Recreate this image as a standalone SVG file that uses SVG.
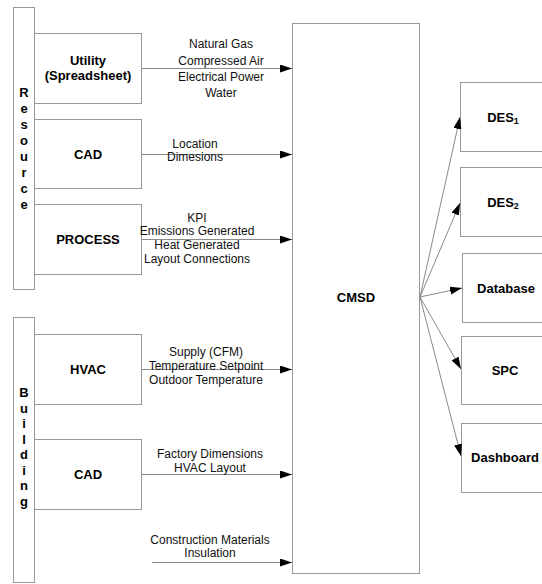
<svg xmlns="http://www.w3.org/2000/svg" width="542" height="584" viewBox="0 0 542 584">
<defs>
<style>
.box{fill:#fff;stroke:#999;stroke-width:1}
.ln{fill:none;stroke:#8a8a8a;stroke-width:1}
.b{font-family:"Liberation Sans",Arial,sans-serif;font-weight:bold;font-size:13px;fill:#000;text-anchor:middle}
.t{font-family:"Liberation Sans",Arial,sans-serif;font-size:12px;fill:#111;text-anchor:middle}
</style>
<marker id="ah" markerUnits="userSpaceOnUse" markerWidth="13" markerHeight="9" refX="12" refY="4" orient="auto">
<path d="M0,0 L12,4 L0,8 z" fill="#000"/>
</marker>
</defs>
<rect width="542" height="584" fill="#fff"/>

<g id="resource">
<rect class="box" x="13.5" y="7.5" width="21" height="282"/>
<text class="b" x="24" y="97">R</text>
<text class="b" x="24" y="113">e</text>
<text class="b" x="24" y="129">s</text>
<text class="b" x="24" y="145">o</text>
<text class="b" x="24" y="161">u</text>
<text class="b" x="24" y="177">r</text>
<text class="b" x="24" y="193">c</text>
<text class="b" x="24" y="209">e</text>
</g>
<g id="building">
<rect class="box" x="13.5" y="317.5" width="21" height="265"/>
<text class="b" x="24" y="397">B</text>
<text class="b" x="24" y="412.5">u</text>
<text class="b" x="24" y="428">i</text>
<text class="b" x="24" y="443.5">l</text>
<text class="b" x="24" y="459">d</text>
<text class="b" x="24" y="474.5">i</text>
<text class="b" x="24" y="490">n</text>
<text class="b" x="24" y="505.5">g</text>
</g>

<g id="utility">
<rect class="box" x="34.5" y="33.5" width="107" height="70"/>
<text class="b" x="88" y="65">Utility</text>
<text class="b" x="88" y="80">(Spreadsheet)</text>
</g>
<g id="cad-resource">
<rect class="box" x="34.5" y="119.5" width="107" height="69"/>
<text class="b" x="88" y="159">CAD</text>
</g>
<g id="process">
<rect class="box" x="34.5" y="204.5" width="107" height="70"/>
<text class="b" x="88" y="244">PROCESS</text>
</g>
<g id="hvac">
<rect class="box" x="34.5" y="334.5" width="107" height="70"/>
<text class="b" x="88" y="374">HVAC</text>
</g>
<g id="cad-building">
<rect class="box" x="34.5" y="439.5" width="107" height="70"/>
<text class="b" x="88" y="479">CAD</text>
</g>

<g id="cmsd">
<rect class="box" x="292.5" y="23.5" width="127" height="550"/>
<text class="b" x="356" y="302">CMSD</text>
</g>

<g id="des1">
<rect class="box" x="460.5" y="82.5" width="100" height="69"/>
<text class="b" x="503" y="122">DES<tspan font-size="9" dy="2">1</tspan></text>
</g>
<g id="des2">
<rect class="box" x="460.5" y="167.5" width="100" height="69"/>
<text class="b" x="503" y="207">DES<tspan font-size="9" dy="2">2</tspan></text>
</g>
<g id="database">
<rect class="box" x="462.5" y="253.5" width="100" height="69"/>
<text class="b" x="506" y="293">Database</text>
</g>
<g id="spc">
<rect class="box" x="461.5" y="336.5" width="100" height="68"/>
<text class="b" x="505" y="375">SPC</text>
</g>
<g id="dashboard">
<rect class="box" x="461.5" y="423.5" width="100" height="69"/>
<text class="b" x="505" y="462">Dashboard</text>
</g>

<g id="connectors">
<line class="ln" x1="142" y1="68.5" x2="292" y2="68.5" marker-end="url(#ah)"/>
<line class="ln" x1="142" y1="154.5" x2="292" y2="154.5" marker-end="url(#ah)"/>
<line class="ln" x1="142" y1="239.5" x2="292" y2="239.5" marker-end="url(#ah)"/>
<line class="ln" x1="142" y1="369.5" x2="292" y2="369.5" marker-end="url(#ah)"/>
<line class="ln" x1="142" y1="474.5" x2="292" y2="474.5" marker-end="url(#ah)"/>
<line class="ln" x1="152" y1="562.5" x2="292" y2="562.5" marker-end="url(#ah)"/>
<line class="ln" x1="420" y1="297" x2="460" y2="117" marker-end="url(#ah)"/>
<line class="ln" x1="420" y1="297" x2="460" y2="203" marker-end="url(#ah)"/>
<line class="ln" x1="420" y1="297" x2="462" y2="288" marker-end="url(#ah)"/>
<line class="ln" x1="420" y1="297" x2="461" y2="369" marker-end="url(#ah)"/>
<line class="ln" x1="420" y1="297" x2="461" y2="456" marker-end="url(#ah)"/>
<g id="labels">
<text class="t" x="221" y="48">Natural Gas</text>
<text class="t" x="221" y="65">Compressed Air</text>
<text class="t" x="221" y="81">Electrical Power</text>
<text class="t" x="221" y="96.5">Water</text>
<text class="t" x="195" y="148">Location</text>
<text class="t" x="195" y="161">Dimesions</text>
<text class="t" x="197" y="221.5">KPI</text>
<text class="t" x="197" y="235">Emissions Generated</text>
<text class="t" x="197" y="249">Heat Generated</text>
<text class="t" x="197" y="263">Layout Connections</text>
<text class="t" x="206" y="355.5">Supply (CFM)</text>
<text class="t" x="206" y="370">Temperature Setpoint</text>
<text class="t" x="206" y="384">Outdoor Temperature</text>
<text class="t" x="210" y="458">Factory Dimensions</text>
<text class="t" x="210" y="471.5">HVAC Layout</text>
<text class="t" x="210" y="543.5">Construction Materials</text>
<text class="t" x="210" y="557">Insulation</text>
</g>
</g>
</svg>
